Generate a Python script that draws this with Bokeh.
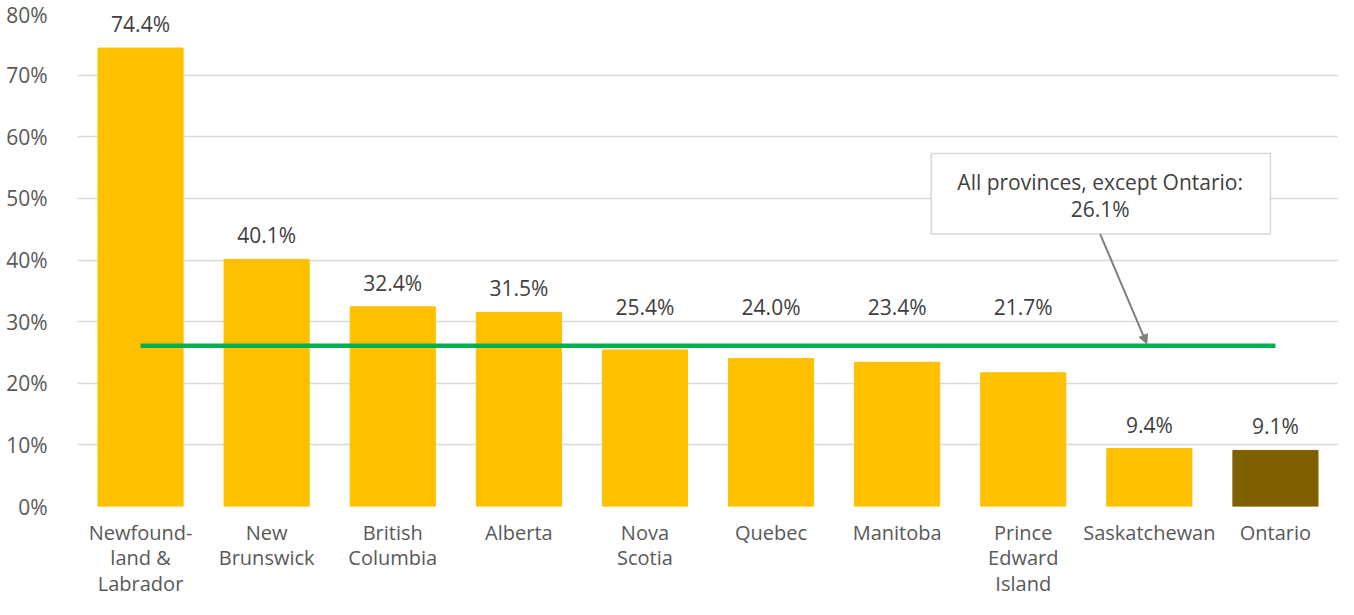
from bokeh.plotting import figure
from bokeh.models import (ColumnDataSource, Range1d, FixedTicker, PrintfTickFormatter,
                          Arrow, NormalHead, BoxAnnotation, Label)
from bokeh.core.properties import value
from bokeh.embed import file_html
from bokeh.resources import INLINE

# ---- data ----
provinces = ["Newfound-\nland &\nLabrador", "New\nBrunswick", "British\nColumbia", "Alberta",
             "Nova\nScotia", "Quebec", "Manitoba", "Prince\nEdward\nIsland", "Saskatchewan", "Ontario"]
shares = [74.4, 40.1, 32.4, 31.5, 25.4, 24.0, 23.4, 21.7, 9.4, 9.1]
average_except_ontario = 26.1
y_ticks = [0, 10, 20, 30, 40, 50, 60, 70, 80]

FONT = "Open Sans"
FS = "21px"
GOLD = "#FFC000"
BROWN = "#7F6000"

xs = list(range(1, len(provinces) + 1))
colors = [BROWN if name == "Ontario" else GOLD for name in provinces]
labels = [f"{v:.1f}%" for v in shares]
avg = average_except_ontario
# labels of bars just under the average line are lifted above that line
label_y = [avg + 2.3 if (avg - 10 < v < avg + 3) else v for v in shares]
src = ColumnDataSource(dict(x=xs, top=shares, color=colors, label=labels, ly=label_y))

p = figure(width=1338, height=599, output_backend="svg", toolbar_location=None,
           x_range=Range1d(0.5, len(provinces) + 0.5), y_range=Range1d(0, 80),
           min_border_left=77, min_border_right=0, min_border_top=13, min_border_bottom=90)
p.outline_line_color = None
p.background_fill_color = "white"
p.border_fill_color = "white"

p.vbar(x="x", top="top", width=0.675, bottom=0, color="color", source=src)

p.text(x="x", y="ly", text="label", source=src, text_align="center", text_baseline="bottom",
       y_offset=-10, text_font=value(FONT), text_font_size=FS, text_color="#404040")

# average line
p.line(x=[xs[0], xs[-1]], y=[avg] * 2, line_color="#00B050", line_width=4.5)

# annotation box
p.add_layout(BoxAnnotation(left=7.27, right=9.96, bottom=44.2, top=57.3,
                           fill_color="white", fill_alpha=1.0,
                           line_color="#7F7F7F", line_width=1.5))
p.add_layout(Label(x=8.61, y=52.6, text="All provinces, except Ontario:", text_align="center",
                   text_baseline="middle", text_font=FONT, text_font_size=FS,
                   text_color="#404040"))
p.add_layout(Label(x=8.61, y=48.3, text=f"{avg:.1f}%", text_align="center",
                   text_baseline="middle", text_font=FONT, text_font_size=FS,
                   text_color="#404040"))
p.add_layout(Arrow(x_start=8.61, y_start=44.2, x_end=8.98, y_end=avg + 0.3,
                   line_color="#7F7F7F", line_width=2,
                   end=NormalHead(size=9, fill_color="#7F7F7F", line_color="#7F7F7F")))

# axes
p.xaxis.ticker = FixedTicker(ticks=xs)
p.xaxis.major_label_overrides = {x: name for x, name in zip(xs, provinces)}
p.xaxis.axis_line_color = None
p.xaxis.major_tick_line_color = None
p.xaxis.minor_tick_line_color = None
p.xaxis.major_label_text_font = FONT
p.xaxis.major_label_text_font_size = "20px"
p.xaxis.major_label_text_color = "#595959"
p.xaxis.major_label_text_line_height = 0.95
p.xaxis.major_label_standoff = 6

p.yaxis.ticker = FixedTicker(ticks=y_ticks)
p.yaxis.formatter = PrintfTickFormatter(format="%d%%")
p.yaxis.axis_line_color = None
p.yaxis.major_tick_line_color = None
p.yaxis.minor_tick_line_color = None
p.yaxis.major_label_text_font = FONT
p.yaxis.major_label_text_font_size = FS
p.yaxis.major_label_text_color = "#595959"
p.yaxis.major_label_standoff = 24

p.xgrid.grid_line_color = None
p.ygrid.grid_line_color = "#D9D9D9"
p.ygrid.grid_line_width = 1.5

open("out.html", "w").write(file_html(p, INLINE))
